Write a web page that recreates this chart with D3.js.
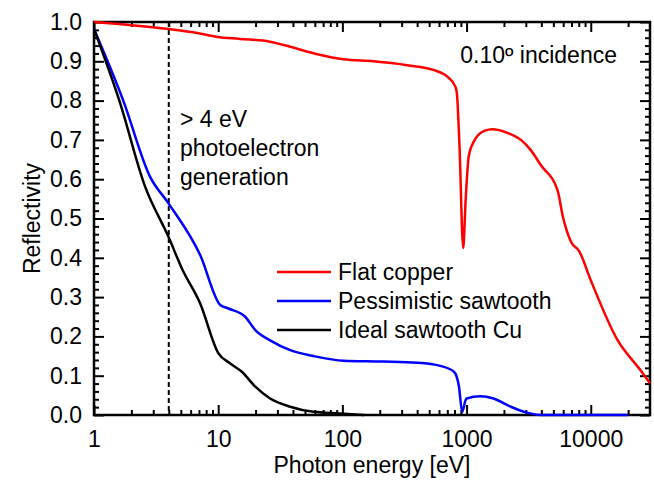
<!DOCTYPE html>
<html>
<head>
<meta charset="utf-8">
<script src="https://cdn.jsdelivr.net/npm/d3@7"></script>
<style>
  body { margin: 0; background: #fff; }
  svg text { font-family: "Liberation Sans", Arial, sans-serif; fill: #000; }
</style>
</head>
<body>
<svg width="654" height="481"></svg>
<script>
// photon energy [eV] and reflectivity
var flatE = [1, 2, 4, 6.8, 9.8, 15, 26, 38, 63, 102, 178, 334, 541, 700, 814, 835, 876, 940, 983, 1040, 1140, 1390, 1620, 2130, 2740, 3290, 3960, 5400, 5960, 6930, 8100, 10000, 16400, 25000, 30000];
var flatR = [1.0, 0.992, 0.982, 0.972, 0.962, 0.957, 0.95, 0.937, 0.918, 0.905, 0.9, 0.89, 0.878, 0.861, 0.835, 0.82, 0.69, 0.425, 0.547, 0.657, 0.695, 0.723, 0.727, 0.718, 0.70, 0.674, 0.636, 0.572, 0.505, 0.441, 0.416, 0.343, 0.191, 0.115, 0.081];

var pessE = [1, 1.72, 2.83, 3.97, 7.16, 10.4, 12.1, 16.5, 19.9, 26.2, 38, 58.5, 102, 215, 400, 615, 792, 869, 922, 983, 1000, 1290, 1650, 2270, 3070, 3960, 20000];
var pessR = [0.982, 0.80, 0.606, 0.539, 0.407, 0.28, 0.271, 0.25, 0.216, 0.19, 0.165, 0.15, 0.138, 0.136, 0.133, 0.125, 0.11, 0.072, 0.008, 0.038, 0.042, 0.048, 0.042, 0.021, 0.006, 0.0, 0.0];

var idealE = [1, 1.6, 2.58, 3.97, 5.1, 7.16, 10.05, 12.5, 15.5, 19.9, 26.2, 38, 58.5, 96, 150];
var idealR = [0.982, 0.80, 0.581, 0.454, 0.373, 0.284, 0.157, 0.131, 0.11, 0.072, 0.042, 0.021, 0.008, 0.004, 0.0];

var seriesNames = ["Flat copper", "Pessimistic sawtooth", "Ideal sawtooth Cu"];
var seriesColors = ["#ff0000", "#0000ff", "#000000"];

var xMajor = [1, 10, 100, 1000, 10000];
var xLabels = ["1", "10", "100", "1000", "10000"];
var yMajor = [0, 0.1, 0.2, 0.3, 0.4, 0.5, 0.6, 0.7, 0.8, 0.9, 1.0];

var fs = "23px";

var svg = d3.select("svg");
var margin = {left: 94, right: 4, top: 22, bottom: 66};
var width = 654 - margin.left - margin.right;
var height = 481 - margin.top - margin.bottom;

var x = d3.scaleLog().domain([1, 30000]).range([0, width]);
var y = d3.scaleLinear().domain([0, 1]).range([height, 0]);

var g = svg.append("g").attr("transform", "translate(" + margin.left + "," + margin.top + ")");

// minor ticks
var xMinor = [];
xMajor.forEach(d => {
  for (var k = 2; k <= 9; k++) if (k * d < 30000) xMinor.push(k * d);
});
var yMinor = d3.range(0, 51).map(i => i / 50).filter(v => Math.round(v * 50) % 5 != 0);

function styleAxis(sel) {
  sel.select(".domain").remove();
  sel.selectAll("line").attr("stroke", "#000").attr("stroke-width", 2);
  sel.selectAll("text").style("font-size", fs);
}

g.append("g").attr("transform", "translate(0," + height + ")")
  .call(d3.axisBottom(x).tickValues(xMajor).tickFormat((d, i) => xLabels[i]).tickSizeInner(-10).tickPadding(16))
  .call(styleAxis);
g.append("g").attr("transform", "translate(0," + height + ")")
  .call(d3.axisBottom(x).tickValues(xMinor).tickFormat("").tickSizeInner(-5))
  .call(styleAxis);
g.append("g")
  .call(d3.axisTop(x).tickValues(xMajor).tickFormat("").tickSizeInner(-10))
  .call(styleAxis);
g.append("g")
  .call(d3.axisTop(x).tickValues(xMinor).tickFormat("").tickSizeInner(-5))
  .call(styleAxis);

g.append("g")
  .call(d3.axisLeft(y).tickValues(yMajor).tickFormat(d3.format(".1f")).tickSizeInner(-10).tickPadding(12))
  .call(styleAxis);
g.append("g")
  .call(d3.axisLeft(y).tickValues(yMinor).tickFormat("").tickSizeInner(-5))
  .call(styleAxis);
g.append("g").attr("transform", "translate(" + width + ",0)")
  .call(d3.axisRight(y).tickValues(yMajor).tickFormat("").tickSizeInner(-10))
  .call(styleAxis);
g.append("g").attr("transform", "translate(" + width + ",0)")
  .call(d3.axisRight(y).tickValues(yMinor).tickFormat("").tickSizeInner(-5))
  .call(styleAxis);

// frame
g.append("rect")
  .attr("width", width).attr("height", height)
  .attr("fill", "none").attr("stroke", "#000").attr("stroke-width", 2.5);

svg.append("defs").append("clipPath").attr("id", "clip")
  .append("rect").attr("x", -2).attr("y", -2).attr("width", width + 4).attr("height", height + 4);

// dashed line at 4 eV
g.append("line")
  .attr("x1", x(4)).attr("x2", x(4))
  .attr("y1", y(1)).attr("y2", y(0))
  .attr("stroke", "#000").attr("stroke-width", 2)
  .attr("stroke-dasharray", "5,3");

var line = d3.line()
  .x(d => x(d[0]))
  .y(d => y(d[1]))
  .curve(d3.curveMonotoneX);

var series = [
  d3.zip(flatE, flatR),
  d3.zip(pessE, pessR),
  d3.zip(idealE, idealR)
];

g.append("g").attr("clip-path", "url(#clip)")
  .selectAll("path")
  .data(series)
  .join("path")
  .attr("d", line)
  .attr("fill", "none")
  .attr("stroke", (d, i) => seriesColors[i])
  .attr("stroke-width", 2.5)
  .attr("stroke-linejoin", "round");

// legend
var legend = g.append("g").attr("transform", "translate(183,250)");
seriesNames.forEach((name, i) => {
  legend.append("line")
    .attr("x1", 0).attr("x2", 54)
    .attr("y1", i * 29).attr("y2", i * 29)
    .attr("stroke", seriesColors[i]).attr("stroke-width", 2.5);
  legend.append("text")
    .attr("x", 61).attr("y", i * 29 + 8)
    .style("font-size", fs)
    .text(name);
});

// annotations
svg.append("text").attr("x", 617).attr("y", 63)
  .attr("text-anchor", "end").style("font-size", fs)
  .text("0.10º incidence");

var note = svg.append("text").style("font-size", fs);
["> 4 eV", "photoelectron", "generation"].forEach((t, i) => {
  note.append("tspan").attr("x", 180).attr("y", 127 + i * 29).text(t);
});

// axis titles
svg.append("text")
  .attr("x", margin.left + width / 2).attr("y", 473)
  .attr("text-anchor", "middle").style("font-size", fs)
  .text("Photon energy [eV]");

svg.append("text")
  .attr("transform", "translate(40," + (margin.top + height / 2) + ") rotate(-90)")
  .attr("text-anchor", "middle").style("font-size", fs)
  .text("Reflectivity");
</script>
</body>
</html>
